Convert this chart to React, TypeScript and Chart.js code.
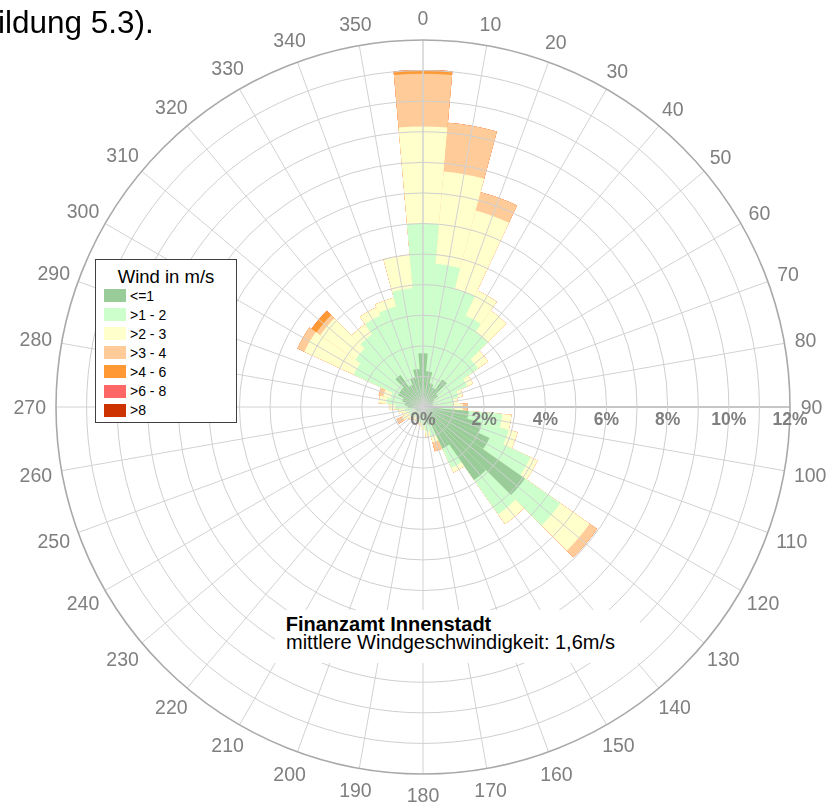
import React, { useEffect, useRef } from 'react';
import { Chart, registerables } from 'chart.js';

Chart.register(...registerables);

// Wind directions (degrees), 10° sectors
const directions = [0, 10, 20, 30, 40, 50, 60, 70, 80, 90, 100, 110, 120, 130, 140, 150, 160, 170,
  180, 190, 200, 210, 220, 230, 240, 250, 260, 270, 280, 290, 300, 310, 320, 330, 340, 350];

// Speed classes (legend)
const speedClasses = ['<=1', '>1 - 2', '>2 - 3', '>3 - 4', '>4 - 6', '>6 - 8', '>8'];
const classColors = ['#99cc99', '#ccffcc', '#ffffcc', '#ffcc99', '#ff9933', '#ff6666', '#cc3300'];

// Frequency (%) per direction for each speed class
const wsUpTo1 = [1.76, 1.17, 0.8, 0.7, 1.1, 0.6, 0.4, 0.35, 0.3, 0.4, 1.5, 2.0, 2.4, 4.07, 2.91, 1.5, 0.6, 0.4,
  0.3, 0.25, 0.2, 0.2, 0.2, 0.2, 0.25, 0.25, 0.3, 0.5, 0.6, 0.7, 0.9, 0.9, 1.28, 0.8, 1.0, 1.25];
const ws1to2 = [4.24, 3.53, 3.2, 2.6, 1.9, 1.6, 1.2, 0.85, 0.7, 0.6, 1.1, 0.9, 1.48, 1.41, 1.37, 0.7, 0.4, 0.4,
  0.3, 0.25, 0.2, 0.2, 0.2, 0.25, 0.25, 0.25, 0.3, 0.4, 0.6, 0.4, 1.6, 1.8, 1.62, 2.5, 2.4, 2.65];
const ws2to3 = [3.17, 3.03, 2.65, 0.9, 0.85, 0.4, 0.2, 0.15, 0.15, 0.3, 0.3, 0.3, 0.25, 1.17, 0.39, 0.16, 0.2, 0.2,
  0.15, 0.1, 0.1, 0.1, 0.1, 0.15, 0.25, 0.2, 0.2, 0.2, 0.25, 0.25, 1.78, 1.4, 0.4, 0.3, 0.3, 1.1];
const ws3to4 = [1.73, 1.6, 0.62, 0, 0, 0, 0, 0, 0, 0.15, 0, 0, 0, 0.3, 0, 0, 0.3, 0,
  0, 0, 0, 0, 0, 0, 0.2, 0, 0, 0, 0, 0.15, 0.25, 0.15, 0, 0, 0, 0];
const ws4to6 = [0.12, 0, 0, 0, 0, 0, 0, 0, 0, 0, 0, 0, 0, 0, 0, 0, 0, 0,
  0, 0, 0, 0, 0, 0, 0, 0, 0, 0, 0, 0, 0, 0.2, 0, 0, 0, 0];
const ws6to8 = new Array(36).fill(0);
const wsOver8 = new Array(36).fill(0);

const classSeries = [wsUpTo1, ws1to2, ws2to3, ws3to4, ws4to6, ws6to8, wsOver8];

// Radial axis
const radialMax = 12;
const radialStep = 1;
const radialTickLabels = [0, 2, 4, 6, 8, 10, 12];

const FONT = "'Liberation Sans', Arial, Helvetica, sans-serif";

const decorPlugin = {
  id: 'windRoseDecor',
  afterDatasetsDraw(chart: any) {
    const s = chart.scales.r;
    const ctx = chart.ctx;
    const R = s.drawingArea;
    const half = Math.PI / directions.length;
    ctx.save();
    for (let i = 0; i < directions.length; i++) {
      const p = s.getPointPosition(i, R, half);
      ctx.beginPath();
      ctx.moveTo(s.xCenter, s.yCenter);
      ctx.lineTo(p.x, p.y);
      const d = directions[i];
      ctx.lineWidth = d === 90 ? 2 : d === 0 ? 1.5 : 1;
      ctx.strokeStyle = d === 90 ? '#c6c6c6' : '#d2d2d2';
      ctx.stroke();
    }
    ctx.restore();
  },
  afterDraw(chart: any) {
    const s = chart.scales.r;
    const ctx = chart.ctx;
    const R = s.drawingArea;
    const half = Math.PI / directions.length;
    ctx.save();
    const fs = 19.5;
    ctx.font = `${fs}px ${FONT}`;
    ctx.fillStyle = '#7f7f7f';
    ctx.textAlign = 'center';
    ctx.textBaseline = 'alphabetic';
    for (let i = 0; i < directions.length; i++) {
      const label = String(directions[i]);
      const w = ctx.measureText(label).width;
      const sinA = Math.abs(Math.sin((directions[i] * Math.PI) / 180));
      const p = s.getPointPosition(i, R + 21.5 + Math.max(0, w / 2 - 11) * sinA * 0.9, half);
      ctx.fillText(label, p.x, p.y + fs * 0.358);
    }
    const tfs = 17.5;
    ctx.font = `bold ${tfs}px ${FONT}`;
    ctx.fillStyle = '#7f7f7f';
    for (const v of radialTickLabels) {
      const x = s.xCenter + s.getDistanceFromCenterForValue(v);
      ctx.fillText(`${v}%`, x, s.yCenter + 12 + tfs * 0.358);
    }
    ctx.restore();
  },
};

export default function App() {
  const canvasRef = useRef<HTMLCanvasElement | null>(null);

  useEffect(() => {
    if (!canvasRef.current) return;
    const datasets = speedClasses.map((name, k) => {
      const data = directions.map((_, i) => {
        let sum = 0;
        for (let j = 0; j <= k; j++) sum += classSeries[j][i];
        return Math.round(sum * 1000) / 1000;
      });
      return {
        label: name,
        data,
        backgroundColor: classColors[k],
        borderWidth: 0,
      };
    });
    const chart = new Chart(canvasRef.current, {
      type: 'polarArea',
      data: { labels: directions.map(String), datasets },
      options: {
        responsive: false,
        animation: false,
        layout: { padding: { left: 56, right: 37, top: 40, bottom: 28 } },
        plugins: { legend: { display: false }, tooltip: { enabled: false } },
        scales: {
          r: {
            min: 0,
            max: radialMax,
            startAngle: -5,
            ticks: { display: false, stepSize: radialStep },
            grid: {
              circular: true,
              z: 1,
              color: (c: any) => (c.tick && c.tick.value === radialMax ? '#a9a9a9' : '#cfcfcf'),
              lineWidth: (c: any) => (c.tick && c.tick.value === radialMax ? 1.6 : 1),
            },
            angleLines: { display: false },
            pointLabels: { display: false },
          },
        },
      } as any,
      plugins: [decorPlugin],
    });
    return () => chart.destroy();
  }, []);

  const txt: React.CSSProperties = { position: 'absolute', whiteSpace: 'nowrap', lineHeight: 1, fontFamily: FONT, color: '#000' };

  return (
    <div style={{ position: 'absolute', left: 0, top: 0, width: 827, height: 802, overflow: 'hidden', background: '#fff' }}>
      <canvas ref={canvasRef} width={827} height={802} style={{ position: 'absolute', left: 0, top: 0 }} />
      <div style={{ ...txt, left: -2, top: 33.3 - 0.8465 * 31.5, fontSize: 31.5 }}>ildung 5.3).</div>
      <div style={{ position: 'absolute', left: 95, top: 259, width: 142, height: 164, border: '1px solid #404040', background: '#fff', boxSizing: 'border-box' }}>
        <div style={{ ...txt, left: 0, width: 140, textAlign: 'center', top: 283.3 - 0.8465 * 18.5 - 260, fontSize: 18.5 }}>Wind in m/s</div>
        {speedClasses.map((name, k) => {
          const cy = 295.5 + k * 19.1 - 260;
          return (
            <React.Fragment key={name}>
              <div style={{ position: 'absolute', left: 8, top: cy - 6.5, width: 22, height: 13, background: classColors[k] }} />
              <div style={{ ...txt, left: 34, top: cy + 5 - 0.8465 * 14, fontSize: 14 }}>{name}</div>
            </React.Fragment>
          );
        })}
      </div>
      <div style={{ position: 'absolute', left: 275, top: 610, width: 365, height: 53, background: '#fff' }} />
      <div style={{ ...txt, left: 285.7, top: 630.7 - 0.8465 * 20, fontSize: 20, fontWeight: 'bold' }}>Finanzamt Innenstadt</div>
      <div style={{ ...txt, left: 286, top: 649.3 - 0.8465 * 20, fontSize: 20 }}>mittlere Windgeschwindigkeit: 1,6m/s</div>
    </div>
  );
}
